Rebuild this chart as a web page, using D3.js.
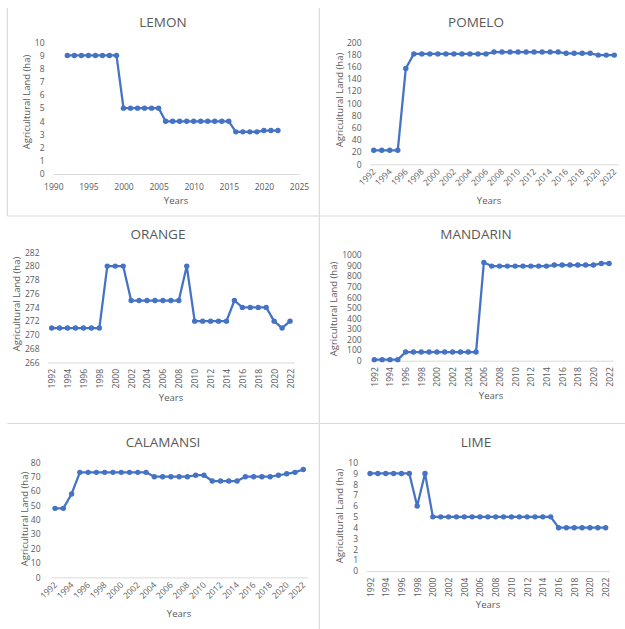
<!DOCTYPE html>
<html><head><meta charset="utf-8">
<script src="https://cdn.jsdelivr.net/npm/d3@7"></script>
<style>
body{margin:0;background:#fff}
svg{display:block}
text{font-family:"Open Sans",sans-serif;fill:#595959}
</style>
</head><body><svg id="c" width="625" height="629"></svg>
<script>
// ---------- DATA ----------
const years = [1992,1993,1994,1995,1996,1997,1998,1999,2000,2001,2002,2003,2004,2005,2006,2007,2008,2009,2010,2011,2012,2013,2014,2015,2016,2017,2018,2019,2020,2021,2022];
const categoryTickLabels = [1992,1994,1996,1998,2000,2002,2004,2006,2008,2010,2012,2014,2016,2018,2020,2022];

const lemonValues = [9,9,9,9,9,9,9,9,5,5,5,5,5,5,4,4,4,4,4,4,4,4,4,4,3.2,3.2,3.2,3.2,3.3,3.3,3.3];
const pomeloValues = [23,23,23,23,157,181,181,181,181,181,181,181,181,181,181,184,184,184,184,184,184,184,184,184,182,182,182,182,179,179,179];
const orangeValues = [271,271,271,271,271,271,271,280,280,280,275,275,275,275,275,275,275,280,272,272,272,272,272,275,274,274,274,274,272,271,272];
const mandarinValues = [10,10,10,10,82,82,82,82,82,82,82,82,82,82,930,895,895,895,895,895,895,895,895,905,905,905,905,905,905,920,920];
const calamansiValues = [48,48,58,73,73,73,73,73,73,73,73,73,70,70,70,70,70,71,71,67,67,67,67,70,70,70,70,71,72,73,75];
const limeValues = [9,9,9,9,9,9,6,9,5,5,5,5,5,5,5,5,5,5,5,5,5,5,5,5,4,4,4,4,4,4,4];

const lemonXTicks = [1990,1995,2000,2005,2010,2015,2020,2025];
const lemonYTicks = [0,1,2,3,4,5,6,7,8,9,10];
const pomeloYTicks = [0,20,40,60,80,100,120,140,160,180,200];
const orangeYTicks = [266,268,270,272,274,276,278,280,282];
const mandarinYTicks = [0,100,200,300,400,500,600,700,800,900,1000];
const calamansiYTicks = [0,10,20,30,40,50,60,70,80];
const limeYTicks = [0,1,2,3,4,5,6,7,8,9,10];

const titles = ["LEMON","POMELO","ORANGE","MANDARIN","CALAMANSI","LIME"];
const xAxisTitle = "Years";
const yAxisTitle = "Agricultural Land (ha)";

// ---------- LAYOUT ----------
const layout = [
  {values:lemonValues, yTicks:lemonYTicks, numericX:true, xTicks:lemonXTicks, x0:53.3, x1:299, yB:174, yT:42.3, tickR:44.5, tx:163, ty:22, yx:176, yy:201, atx:27, aty:102, mode:"flat"},
  {values:pomeloValues, yTicks:pomeloYTicks, x0:369.7, x1:618.3, yB:164.3, yT:42.3, tickR:361.5, tx:476, ty:22, yx:489, yy:201, atx:340, aty:100, mode:"diag"},
  {values:orangeValues, yTicks:orangeYTicks, x0:47.7, x1:294, yB:362.5, yT:252.3, tickR:39.5, tx:158, ty:234, yx:171, yy:398, atx:17, aty:304, mode:"vert"},
  {values:mandarinValues, yTicks:mandarinYTicks, x0:370.4, x1:613, yB:360.7, yT:255, tickR:361.7, tx:476, ty:234, yx:491, yy:396, atx:334, aty:309, mode:"vert"},
  {values:calamansiValues, yTicks:calamansiYTicks, x0:50.9, x1:307.4, yB:577.4, yT:462.3, tickR:40.5, tx:163, ty:442, yx:179, yy:614, atx:25, aty:519, mode:"diag"},
  {values:limeValues, yTicks:limeYTicks, x0:366.1, x1:609.6, yB:571.1, yT:462.6, tickR:358, tx:476, ty:442, yx:488, yy:605, atx:340, aty:516, mode:"vert"}
];

const BLUE = "#4472C4", GRID = "#d9d9d9";
const svg = d3.select("#c");
svg.append("rect").attr("width",625).attr("height",629).attr("fill","#fff");

// panel dividers
const div = svg.append("g").attr("stroke",GRID).attr("stroke-width",1.2);
div.append("line").attr("x1",319.3).attr("x2",319.3).attr("y1",8).attr("y2",629);
div.append("line").attr("x1",7.3).attr("x2",7.3).attr("y1",8).attr("y2",216);
div.append("line").attr("x1",7.3).attr("x2",625).attr("y1",216).attr("y2",216);
div.append("line").attr("x1",7.3).attr("x2",625).attr("y1",423.5).attr("y2",423.5);

layout.forEach((p,i)=>{
  const g = svg.append("g");
  const yDom = d3.extent(p.yTicks);
  const y = d3.scaleLinear().domain(yDom).range([p.yB,p.yT]);
  let xPos;
  if(p.numericX){
    const x = d3.scaleLinear().domain(d3.extent(p.xTicks)).range([p.x0,p.x1]);
    xPos = d=>x(d);
    const ax = d3.axisBottom(x).tickValues(p.xTicks).tickSize(0).tickPadding(10).tickFormat(d3.format("d"));
    const ga = g.append("g").attr("transform",`translate(0,${p.yB})`).call(ax);
    ga.select(".domain").attr("stroke",GRID).attr("stroke-width",1);
    ga.selectAll("text").attr("font-size",8.5).attr("fill","#595959").attr("font-family","Open Sans");
  } else {
    const x = d3.scalePoint().domain(years).range([p.x0,p.x1]).padding(0.5);
    xPos = d=>x(d);
    const ax = d3.axisBottom(x).tickValues(categoryTickLabels).tickSize(0).tickFormat(d=>String(d));
    const ga = g.append("g").attr("transform",`translate(0,${p.yB})`).call(ax);
    ga.select(".domain").attr("stroke",GRID).attr("stroke-width",1);
    ga.selectAll(".tick text")
      .attr("font-size",8.5).attr("fill","#595959").attr("font-family","Open Sans")
      .attr("text-anchor","end").attr("y",0).attr("dy","0.35em")
      .attr("transform", p.mode==="diag" ? "translate(0,6) rotate(-45)" : "translate(0,6.5) rotate(-90)");
  }
  // y axis labels (no line)
  const ay = d3.axisLeft(y).tickValues(p.yTicks).tickSize(0).tickPadding(0).tickFormat(d3.format("d"));
  const gy = g.append("g").attr("transform",`translate(${p.tickR},0)`).call(ay);
  gy.select(".domain").remove();
  gy.selectAll("text").attr("font-size",8.5).attr("fill","#595959").attr("font-family","Open Sans");

  // line + markers
  const pts = years.map((yr,k)=>[yr,p.values[k]]);
  g.append("path").datum(pts)
    .attr("fill","none").attr("stroke",BLUE).attr("stroke-width",2.25).attr("stroke-linejoin","round")
    .attr("d", d3.line().x(d=>xPos(d[0])).y(d=>y(d[1])));
  g.selectAll("circle").data(pts).join("circle")
    .attr("cx",d=>xPos(d[0])).attr("cy",d=>y(d[1])).attr("r",2.7).attr("fill",BLUE);

  // titles
  g.append("text").attr("x",p.tx).attr("y",p.ty).attr("dy","0.35em").attr("text-anchor","middle")
    .attr("font-size",13.5).text(titles[i]);
  g.append("text").attr("x",p.yx).attr("y",p.yy).attr("dy","0.35em").attr("text-anchor","middle")
    .attr("font-size",9.5).text(xAxisTitle);
  g.append("text").attr("transform",`translate(${p.atx},${p.aty}) rotate(-90)`).attr("dy","0.35em")
    .attr("text-anchor","middle").attr("font-size",9.5).text(yAxisTitle);
});
</script>
</body></html>
